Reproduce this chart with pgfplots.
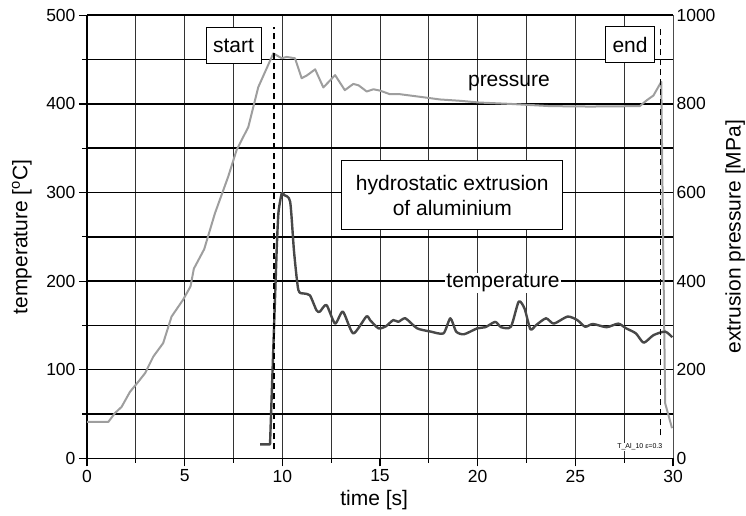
\documentclass[border=0pt]{standalone}
\usepackage{pgfplots}
\pgfplotsset{compat=1.18}
\usepackage{pgfplotstable}
\usepackage{fontspec}
\setmainfont{Liberation Sans}
\definecolor{presgray}{RGB}{158,158,158}
\definecolor{tempgray}{RGB}{72,72,72}
\newcommand{\tickfont}{\fontsize{17.5}{20}\selectfont}
\newcommand{\labfont}{\fontsize{21}{25}\selectfont}

% extrusion pressure [MPa]
\pgfplotstableread{
t p
0 82
1.09 82
1.43 102
1.77 116
2.2 150
2.63 173
2.97 192
3.4 230
3.9 260
4.33 320
4.92 358
5.3 388
5.47 428
6.0 472
6.55 553
7.23 636
7.66 696
8.26 748
8.77 838
9.54 914
9.97 903
10.22 906
10.65 903
10.99 858
11.25 864
11.68 878
12.1 837
12.7 865
13.2 831
13.63 845
13.9 842
14.32 828
14.66 833
15.0 830
15.5 822
16.0 822
17.05 816
18.07 810
19.1 807
20.1 803
21.66 800
23.7 795
25.75 794
28.3 795
28.65 808
29.0 819
29.4 850
29.5 470
29.6 124
29.95 68
}\pressure

% temperature [C], start of the rise
\pgfplotstableread{
t T
8.86 15.8
9.37 15.8
9.71 235
}\temprise

% temperature [C], rest of the run
\pgfplotstableread{
t T
9.71 235
9.8 277
9.97 299
10.1 297
10.4 289.6
10.6 233
10.82 190
11.1 186
11.41 184
11.75 167
11.92 165.5
12.26 173
12.7 152
13.1 165.5
13.63 141
14.3 160
14.49 156
14.92 146.7
15.3 149
15.68 156
15.94 154
16.3 158
16.9 146.7
17.6 143
18.25 141
18.6 158
18.9 143
19.3 140
19.98 146.7
20.4 148
20.9 154
21.2 148
21.7 148.5
22.1 176.8
22.4 169
22.7 145.6
23.0 150.5
23.5 158
23.9 152
24.6 160
25.1 156
25.5 148.5
25.9 151.6
26.6 148
27.2 152
27.6 146.7
28.1 141
28.5 130.5
29.0 139
29.6 143
29.96 136.6
}\temperature

\begin{document}
\begin{tikzpicture}
\useasboundingbox (-87pt,-57.7pt) rectangle (659pt,458.3pt);
\pgfplotsset{base/.style={scale only axis, width=586pt, height=443pt,
  at={(0pt,0pt)}, anchor=south west, xmin=0, xmax=30,
  /pgf/number format/assume math mode=true,
  /pgf/number format/1000 sep={},
  tick label style={font=\tickfont}, label style={font=\labfont}}}

% left and bottom axes, vertical grid lines
\begin{axis}[base, ymin=0, ymax=500,
  axis x line*=bottom, axis y line*=left,
  axis line style={black, line width=1.6pt},
  xtick={0,5,...,30}, minor xtick={2.5,7.5,...,27.5},
  ytick={0,100,...,500}, minor ytick={50,150,...,450},
  xmajorgrids, xminorgrids,
  major grid style={black!80, line width=0.9pt},
  minor grid style={black!80, line width=0.9pt},
  tick align=outside, major tick length=8pt, minor tick length=4.5pt,
  tick style={black, line width=1.2pt},
  xlabel={time [s]}, ylabel={temperature [\textsuperscript{o}C]},
  xlabel style={at={(axis description cs:0.49,-0.095)}, anchor=center},
  ylabel style={at={(axis description cs:-0.111,0.5)}, anchor=center}]
\end{axis}

% right axis: pressure, horizontal grid lines
\begin{axis}[base, ymin=0, ymax=1000,
  axis x line=none, axis y line*=right,
  axis line style={black!70, line width=1pt},
  ytick={0,200,...,1000}, minor ytick={100,300,...,900},
  ymajorgrids, yminorgrids,
  major grid style={black, line width=1.6pt},
  minor grid style={black, line width=1.6pt},
  tick style={draw=none},
  ylabel={extrusion pressure [MPa]},
  ylabel style={at={(axis description cs:1.106,0.5)}, anchor=center}]
\addplot[presgray, line width=2pt, line join=round] table[x=t, y=p] {\pressure};
\end{axis}

% temperature curve and annotations
\begin{axis}[base, ymin=0, ymax=500, hide axis, clip=false]
\addplot[tempgray, line width=2.4pt, line join=round] table[x=t, y=T] {\temprise};
\addplot[tempgray, line width=2.4pt, line join=round, smooth, tension=0.4] table[x=t, y=T] {\temperature};
\addplot[black, line width=1.2pt, dash pattern=on 6pt off 4pt] coordinates {(9.57,10) (9.57,487)};
\addplot[black, line width=1.2pt, dash pattern=on 6pt off 4pt] coordinates {(29.34,26) (29.34,485)};
\node[draw=black, line width=0.8pt, fill=white, font=\labfont, inner xsep=7pt, minimum height=36pt] at (axis cs:7.5,466) {start};
\node[draw=black, line width=0.8pt, fill=white, font=\labfont, inner xsep=7pt, minimum height=36pt] at (axis cs:27.8,467) {end};
\node[font=\labfont] at (axis cs:21.6,424) {pressure};
\node[fill=white, inner sep=1pt, font=\labfont] at (axis cs:21.3,197.5) {temperature};
\node[draw=black, line width=0.8pt, fill=white, font=\labfont, align=center,
  minimum width=221pt, minimum height=69pt] at (axis cs:18.7,297) {hydrostatic extrusion\\of aluminium};
\node[font=\fontsize{7}{8}\selectfont, fill=white, inner sep=0.5pt] at (axis cs:28.3,13) {T\_Al\_10 ε=0.3};
\end{axis}
\end{tikzpicture}
\end{document}
